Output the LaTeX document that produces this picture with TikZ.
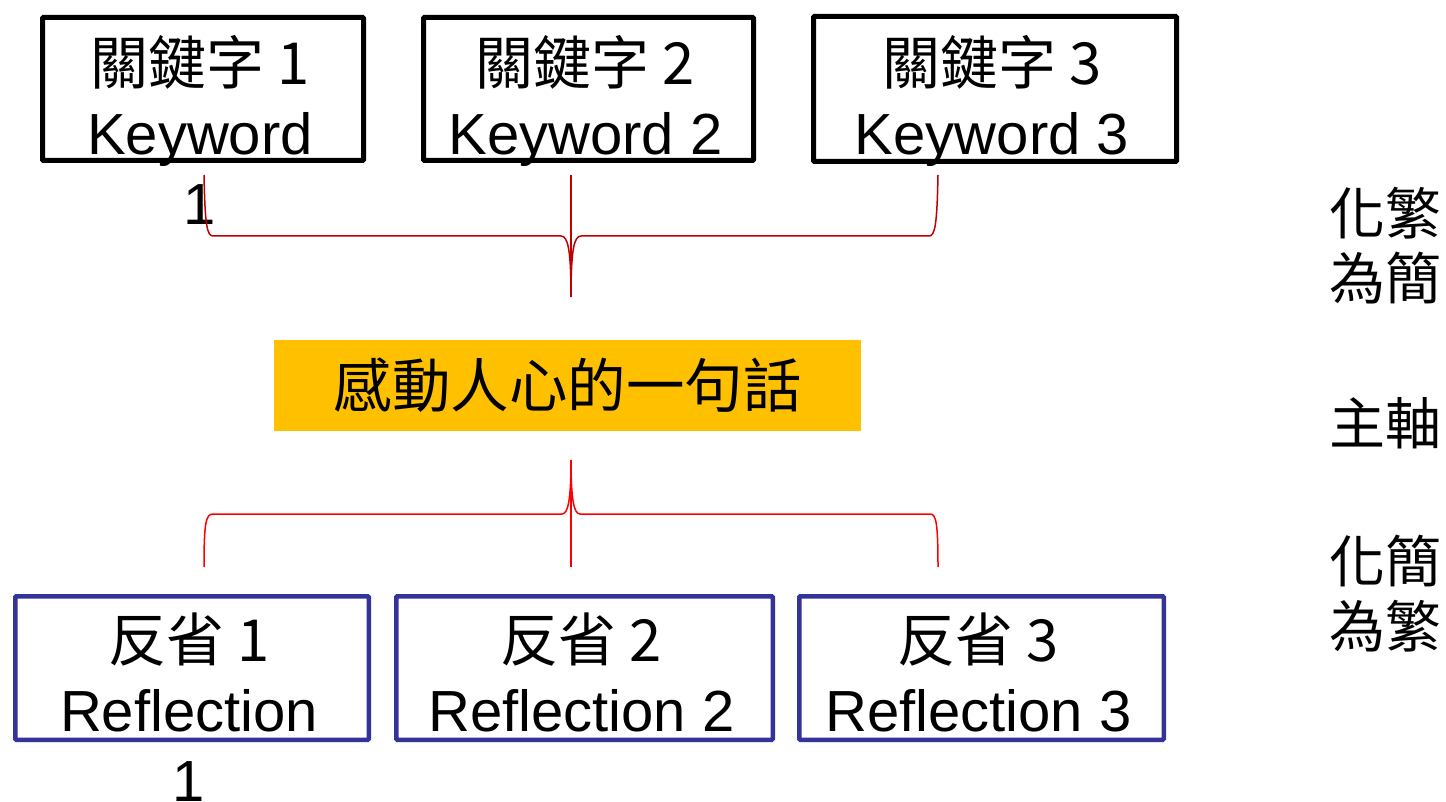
\documentclass[tikz,border=0pt]{standalone}
\usepackage{fontspec}
\setmainfont{Liberation Sans}
\newfontfamily\cjk{Noto Sans CJK TC}
\usetikzlibrary{positioning}

\definecolor{boxblue}{HTML}{333399}
\definecolor{mainorange}{HTML}{FFC000}
\definecolor{darkred}{HTML}{C00000}

\tikzset{
  kwbox/.style={draw=black, line width=5pt, rounded corners=1pt, minimum height=143pt},
  refbox/.style={draw=boxblue, line width=4.5pt, rounded corners=1pt, minimum height=143.5pt},
  boxtext/.style={inner sep=0pt, align=center, xshift=-3pt, font=\fontsize{58}{70}\selectfont},
  sidetext/.style={inner sep=0pt, align=left, anchor=west, font=\cjk\fontsize{56}{65}\selectfont},
  topbrace/.style={draw=darkred, line width=1.5pt},
  botbrace/.style={draw=red, line width=1.5pt}
}

\begin{document}
\begin{tikzpicture}[x=1pt, y=-1pt]
\useasboundingbox (0,0) rectangle (1446,802);

% keywords
\node[kwbox, minimum width=321pt] (kw1) at (203,89) {};
\node[kwbox, minimum width=330pt, right=55pt of kw1] (kw2) {};
\node[kwbox, minimum width=363pt, minimum height=145pt, right=55pt of kw2] (kw3) {};
\node[boxtext, below=20pt of kw1.north] (kw1 text) {{\cjk 關鍵字 1}\\Keyword\\1};
\node[boxtext, below=20pt of kw2.north] (kw2 text) {{\cjk 關鍵字 2}\\Keyword 2};
\node[boxtext, below=21pt of kw3.north] (kw3 text) {{\cjk 關鍵字 3}\\Keyword 3};

% main sentence
\node[fill=mainorange, minimum width=587pt, minimum height=91pt,
  font=\cjk\fontsize{58.5}{70}\selectfont] (main) at (567.5,385.5) {感動人心的一句話};

% reflections
\node[refbox, minimum width=353.5pt] (ref1) at (192,668) {};
\node[refbox, minimum width=376.5pt, right=23pt of ref1] (ref2) {};
\node[refbox, minimum width=364.5pt, right=22pt of ref2] (ref3) {};
\node[boxtext, below=19pt of ref1.north] (ref1 text) {{\cjk 反省 1}\\Reflection\\1};
\node[boxtext, below=19pt of ref2.north] (ref2 text) {{\cjk 反省 2}\\Reflection 2};
\node[boxtext, below=19pt of ref3.north] (ref3 text) {{\cjk 反省 3}\\Reflection 3};

% side notes
\node[sidetext] (side1) at (1329,246) {化繁\\為簡};
\node[sidetext] (side2) at (1329,423) {主軸};
\node[sidetext] (side3) at (1329,594) {化簡\\為繁};

% braces
\coordinate (top stem) at (571,175);
\coordinate (top tip) at (571,297);
\draw[topbrace] (top stem) -- (top tip);
\draw[topbrace] (204,175) .. controls (205,225) and (207,236) .. (213,236) -- (561,236)
  .. controls (568,236) and (571,250) .. (top tip)
  .. controls (571,250) and (574,236) .. (581,236) -- (929,236)
  .. controls (935,236) and (937,225) .. (938,175);

\coordinate (bot tip) at (571,460);
\coordinate (bot stem) at (571,567);
\draw[botbrace] (bot tip) -- (bot stem);
\draw[botbrace] (204,567) .. controls (204,522) and (206,514) .. (213,514) -- (562,514)
  .. controls (568,514) and (571,500) .. (bot tip)
  .. controls (571,500) and (574,514) .. (580,514) -- (930,514)
  .. controls (936,514) and (938,522) .. (938,567);
\end{tikzpicture}
\end{document}
